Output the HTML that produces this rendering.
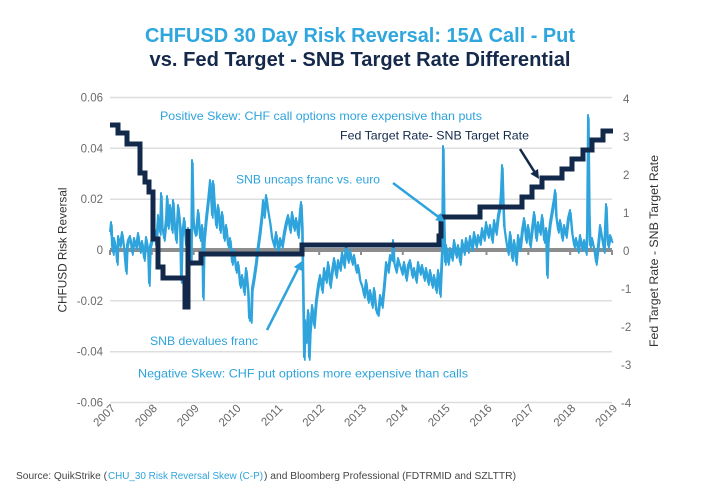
<!DOCTYPE html>
<html>
<head>
<meta charset="utf-8">
<style>
  html,body{margin:0;padding:0;background:#ffffff;}
  svg{display:block;}
  text{font-family:"Liberation Sans", sans-serif;}
</style>
</head>
<body>
<svg width="720" height="500" viewBox="0 0 720 500" xmlns="http://www.w3.org/2000/svg">
  <defs>
    <polyline id="rr" fill="none" stroke-linejoin="round" points="
110,232 111,222 112,246 113,252 114,238 116,249 117,262 118,236 120,244 122,232 124,248 126,271 127,245 128,240 130,236 132,252 134,238 136,246 138,233 140,250 142,241 144,258 146,237 148,249 149,283 150,246
152,238 154,226 156,245 158,215 160,232 161,193 162,225 164,238 166,218 167,196 168,226 170,205 172,230 173,200 174,218 176,240 178,205 180,225 181,280 182,235 184,218 186,245 188,228 190,240 191,262 192,160 193,215 194,228 195,233
196,232 198,210 200,238 202,225 203,297 204,240 206,218 208,200 210,180 212,215 213,181 214,198 216,225 218,205 220,230 222,212 224,238 226,225 228,245 230,238 232,262 234,250
236,270 238,262 240,285 242,275 244,292 246,268 248,290 249,318 250,312 251,320 252,288 254,276 256,262 258,245
260,230 262,212 263,200 264,215 266,195 268,210 270,222 272,238 274,245 276,232 278,250 280,238 282,245 284,232 286,222 288,215 290,230 292,212 294,228 296,218 298,235 300,210 301,202 302,225 303,290 304,357 305,320 306,340 308,310 309,357 310,330 312,305 314,325 316,300 318,285
320,275 322,290 324,268 326,280 328,262 330,285 332,270 334,258 336,275 338,260 340,268 342,252 344,265 346,245 348,260 350,250 352,262 354,255 356,270 358,265 360,280 362,285 364,295 366,280 368,300 370,290 372,305 374,288 376,310 378,313 380,295 382,305 384,285 386,262 388,270 390,255 392,258 393,240 394,262 396,270 398,258 400,265
402,272 404,262 406,278 408,265 410,260 412,275 414,268 416,280 418,262 420,272 422,265 424,278 426,268 428,282 430,270 432,285 434,275 436,290 438,270 440,294 441,272 442,250 443,146 444,225 445,262 446,245
448,262 450,248 452,258 454,240 456,255 458,245 460,262 462,240 464,252 466,238 468,250 470,236 472,248 474,232 476,245 478,235 480,242 482,228 484,238 486,222 488,235 490,225 492,240 494,220 496,232 498,215 500,205 501,190 502,165 503,200 504,225 506,240 508,252 510,232 512,258 514,240 516,262 518,235 520,248
522,230 524,218 526,240 528,225 530,245 532,228 534,212 536,238 538,222 540,232 542,215 544,240 546,228 547,275 548,240 550,222 552,210 554,198 555,190 556,215 558,230 560,220 562,238 564,225 566,235 568,218 570,210 572,232 574,245 576,238 578,250 580,235 582,248 584,240 586,252 587,232 588,115 589,210 590,245 592,238 594,248 596,262 598,245 600,225 602,238 604,250 606,204 607,232 608,245 610,235 612,240"/>
  </defs>
  <rect x="0" y="0" width="720" height="500" fill="#ffffff"/>

  <!-- Title -->
  <text x="360" y="42" text-anchor="middle" font-size="20" font-weight="bold" fill="#2fa6de" textLength="430" lengthAdjust="spacingAndGlyphs">CHFUSD 30 Day Risk Reversal: 15Δ Call - Put</text>
  <text x="360" y="66" text-anchor="middle" font-size="20" font-weight="bold" fill="#15294b" textLength="421" lengthAdjust="spacingAndGlyphs">vs. Fed Target - SNB Target Rate Differential</text>

  <!-- Gridlines -->
  <g stroke="#dedede" stroke-width="1.5">
    <line x1="110" y1="97.5" x2="612" y2="97.5"/>
    <line x1="110" y1="148.3" x2="612" y2="148.3"/>
    <line x1="110" y1="199.2" x2="612" y2="199.2"/>
    <line x1="110" y1="300.8" x2="612" y2="300.8"/>
    <line x1="110" y1="351.7" x2="612" y2="351.7"/>
    <line x1="110" y1="402.5" x2="612" y2="402.5"/>
  </g>

  <!-- Left axis labels -->
  <g font-size="11.5" fill="#6b6b6b" text-anchor="end">
    <text x="103" y="101.5">0.06</text>
    <text x="103" y="152.3">0.04</text>
    <text x="103" y="203.2">0.02</text>
    <text x="103" y="254">0</text>
    <text x="103" y="304.8">-0.02</text>
    <text x="103" y="355.7">-0.04</text>
    <text x="103" y="406.5">-0.06</text>
  </g>

  <!-- Right axis labels -->
  <g font-size="11.5" fill="#6b6b6b" text-anchor="start">
    <text x="623" y="103">4</text>
    <text x="623" y="141">3</text>
    <text x="623" y="179">2</text>
    <text x="623" y="217">1</text>
    <text x="623" y="255">0</text>
    <text x="621" y="293">-1</text>
    <text x="621" y="331">-2</text>
    <text x="621" y="369">-3</text>
    <text x="621" y="407">-4</text>
  </g>

  <!-- Axis titles -->
  <text transform="translate(66.5,250) rotate(-90)" text-anchor="middle" font-size="12" fill="#333333" textLength="125" lengthAdjust="spacingAndGlyphs">CHFUSD Risk Reversal</text>
  <text transform="translate(658,251) rotate(-90)" text-anchor="middle" font-size="12" fill="#333333" textLength="192" lengthAdjust="spacingAndGlyphs">Fed Target Rate - SNB Target Rate</text>

  <!-- Year labels -->
  <g font-size="11.5" fill="#666666" text-anchor="end">
    <text transform="translate(116,409) rotate(-45)">2007</text>
    <text transform="translate(157.8,409) rotate(-45)">2008</text>
    <text transform="translate(199.7,409) rotate(-45)">2009</text>
    <text transform="translate(241.5,409) rotate(-45)">2010</text>
    <text transform="translate(283.3,409) rotate(-45)">2011</text>
    <text transform="translate(325.2,409) rotate(-45)">2012</text>
    <text transform="translate(367,409) rotate(-45)">2013</text>
    <text transform="translate(408.8,409) rotate(-45)">2014</text>
    <text transform="translate(450.7,409) rotate(-45)">2015</text>
    <text transform="translate(492.5,409) rotate(-45)">2016</text>
    <text transform="translate(534.3,409) rotate(-45)">2017</text>
    <text transform="translate(576.2,409) rotate(-45)">2018</text>
    <text transform="translate(618,409) rotate(-45)">2019</text>
  </g>

  <!-- Zero axis line with year ticks -->
  <line x1="110" y1="250" x2="612" y2="250" stroke="#8d8d8d" stroke-width="4"/>
  <g stroke="#8d8d8d" stroke-width="2">
    <line x1="110" y1="250" x2="110" y2="255"/>
    <line x1="151.8" y1="250" x2="151.8" y2="255"/>
    <line x1="193.7" y1="250" x2="193.7" y2="255"/>
    <line x1="235.5" y1="250" x2="235.5" y2="255"/>
    <line x1="277.3" y1="250" x2="277.3" y2="255"/>
    <line x1="319.2" y1="250" x2="319.2" y2="255"/>
    <line x1="361" y1="250" x2="361" y2="255"/>
    <line x1="402.8" y1="250" x2="402.8" y2="255"/>
    <line x1="444.7" y1="250" x2="444.7" y2="255"/>
    <line x1="486.5" y1="250" x2="486.5" y2="255"/>
    <line x1="528.3" y1="250" x2="528.3" y2="255"/>
    <line x1="570.2" y1="250" x2="570.2" y2="255"/>
    <line x1="612" y1="250" x2="612" y2="255"/>
  </g>

  <!-- Risk reversal series (doubled for band density) -->
  <use href="#rr" stroke="#2ea3dc" stroke-width="1.8" transform="translate(0.8,3)"/>
  <use href="#rr" stroke="#2ea3dc" stroke-width="2"/>

  <!-- Fed - SNB rate differential step line -->
  <path fill="none" stroke="#13294b" stroke-width="5" stroke-linejoin="miter" stroke-linecap="butt"
    d="M110,125 H118 V133 H127 V144 H140 V173 H145 V182 H149 V192 H153 V239 H158 V267 H163 V278 H185 V307 H188 V229 V263 H201 V254 H302 V245 H439 V236 H441 V217 H480 V207 H522 V197 H532 V187 H542 V178 H562 V169 H572 V159 H583 V150 H592 V140 H603 V131 H613"/>

  <!-- Annotations -->
  <g font-size="12" fill="#2ea3dc">
    <text x="160" y="120" textLength="322" lengthAdjust="spacingAndGlyphs">Positive Skew: CHF call options more expensive than puts</text>
    <text x="236" y="183.5" textLength="144" lengthAdjust="spacingAndGlyphs">SNB uncaps franc vs. euro</text>
    <text x="150" y="345" textLength="108" lengthAdjust="spacingAndGlyphs">SNB devalues franc</text>
    <text x="138" y="377.5" textLength="330" lengthAdjust="spacingAndGlyphs">Negative Skew: CHF put options more expensive than calls</text>
  </g>
  <text x="340" y="139.5" font-size="12" fill="#13294b" textLength="189" lengthAdjust="spacingAndGlyphs">Fed Target Rate- SNB Target Rate</text>

  <!-- Arrows -->
  <line x1="393" y1="183" x2="438" y2="216.6" stroke="#2ea3dc" stroke-width="2.5"/>
  <polygon points="445,222 435.1,220.2 440.5,213" fill="#2ea3dc"/>
  <line x1="267" y1="330" x2="297.9" y2="269" stroke="#2ea3dc" stroke-width="2.5"/>
  <polygon points="302,261 301.9,271 293.9,267" fill="#2ea3dc"/>
  <line x1="520" y1="149" x2="534.2" y2="171.4" stroke="#13294b" stroke-width="2.5"/>
  <polygon points="539,179 530.4,173.8 538,169" fill="#13294b"/>

  <!-- Source -->
  <g font-size="10">
    <text x="16" y="479" fill="#444444" textLength="91" lengthAdjust="spacingAndGlyphs">Source: QuikStrike (</text>
    <text x="108" y="479" fill="#2ea3dc" textLength="155" lengthAdjust="spacingAndGlyphs">CHU_30 Risk Reversal Skew (C-P)</text>
    <text x="264" y="479" fill="#444444" textLength="252" lengthAdjust="spacingAndGlyphs">) and Bloomberg Professional (FDTRMID and SZLTTR)</text>
  </g>
</svg>
</body>
</html>
